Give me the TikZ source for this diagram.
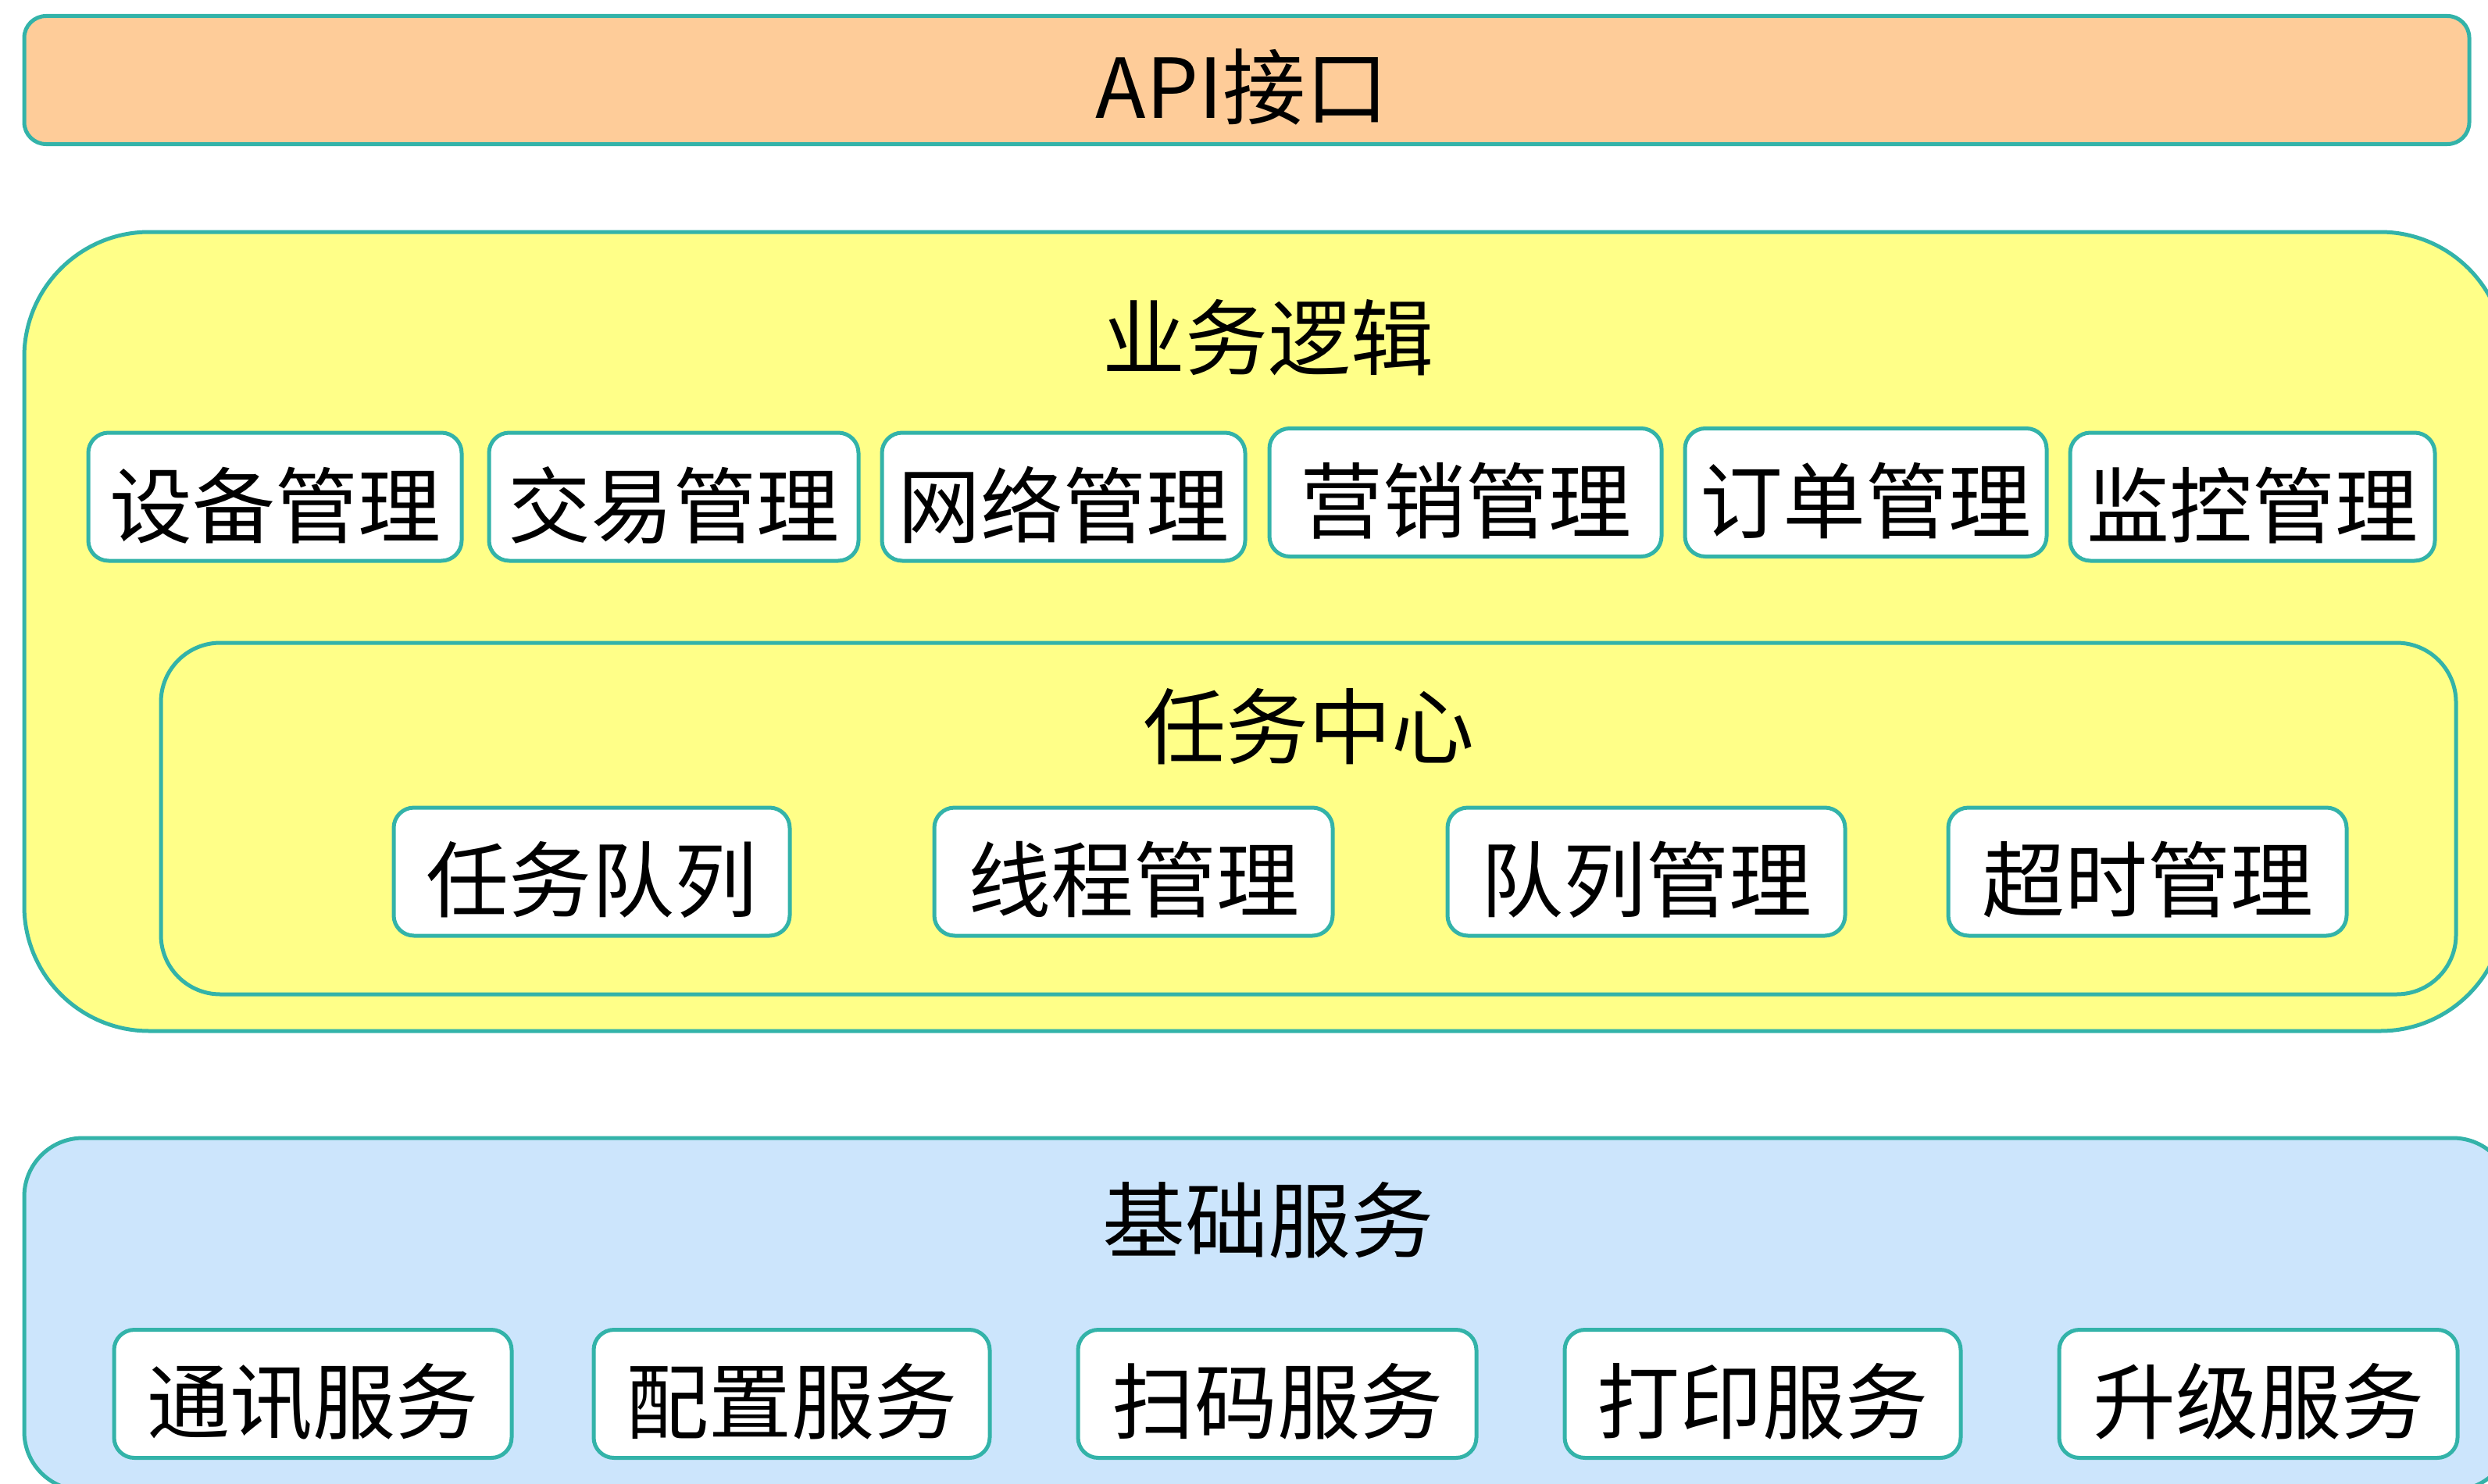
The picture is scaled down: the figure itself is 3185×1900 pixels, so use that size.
\documentclass[tikz,border=0pt]{standalone}
\usepackage{fontspec}
\setmainfont{Noto Sans CJK SC}
\definecolor{edgec}{RGB}{51,179,169}
\definecolor{apifill}{RGB}{254,204,153}
\definecolor{bizfill}{RGB}{255,255,136}
\definecolor{basefill}{RGB}{204,229,252}
\tikzset{
  panel/.style={draw=edgec, line width=5pt, inner sep=0pt, outer sep=0pt, rectangle},
  itembox/.style={panel, fill=white, rounded corners=26pt, minimum height=164pt},
  txt/.style={inner sep=0pt, outer sep=0pt, text=black, font=\fontsize{106}{120}\selectfont},
}
\begin{document}
\begin{tikzpicture}[x=1pt,y=-1pt]
\useasboundingbox (0,0) rectangle (3185,1900);
\clip (0,0) rectangle (3185,1900);

% API layer
\node[panel, fill=apifill, rounded corners=28pt, minimum width=3130pt, minimum height=164pt] (api) at (1596,102.5) {};
\node[txt] (apit) at (1590,111) {API接口};

% business logic layer
\node[panel, fill=bizfill, rounded corners=160pt, minimum width=3176pt, minimum height=1023pt] (biz) at (1619,808.5) {};
\node[txt] (bizt) at (1623,432) {业务逻辑};

\node[itembox, minimum width=478pt] (b1) at (352,636) {};
\node[itembox, minimum width=473pt] (b2) at (862.5,636) {};
\node[itembox, minimum width=465pt] (b3) at (1361.5,636) {};
\node[itembox, minimum width=502pt] (b4) at (1876,630.5) {};
\node[itembox, minimum width=463pt] (b5) at (2388.5,630.5) {};
\node[itembox, minimum width=467pt] (b6) at (2883.5,636) {};
\node[txt, yshift=-11pt] (b1t) at (b1.center) {设备管理};
\node[txt, yshift=-11pt] (b2t) at (b2.center) {交易管理};
\node[txt, yshift=-11pt] (b3t) at (b3.center) {网络管理};
\node[txt, yshift=-11pt] (b4t) at (b4.center) {营销管理};
\node[txt, yshift=-11pt] (b5t) at (b5.center) {订单管理};
\node[txt, yshift=-11pt] (b6t) at (b6.center) {监控管理};

% task center
\node[panel, fill=bizfill, rounded corners=76pt, minimum width=2938pt, minimum height=450pt] (task) at (1675,1048) {};
\node[txt] (taskt) at (1675,930.5) {任务中心};

\node[itembox, minimum width=507pt] (t1) at (757.5,1116) {};
\node[itembox, minimum width=510pt] (t2) at (1451,1116) {};
\node[itembox, minimum width=509pt] (t3) at (2107.5,1116) {};
\node[itembox, minimum width=510pt] (t4) at (2749,1116) {};
\node[txt, yshift=-10pt] (t1t) at (t1.center) {任务队列};
\node[txt, yshift=-10pt] (t2t) at (t2.center) {线程管理};
\node[txt, yshift=-10pt] (t3t) at (t3.center) {队列管理};
\node[txt, yshift=-10pt] (t4t) at (t4.center) {超时管理};

% base services
\node[panel, fill=basefill, rounded corners=75pt, minimum width=3184pt, minimum height=451pt] (base) at (1623,1682.5) {};
\node[txt] (baset) at (1623,1562) {基础服务};

\node[itembox, minimum width=509pt] (s1) at (400.5,1784.5) {};
\node[itembox, minimum width=507pt] (s2) at (1013.5,1784.5) {};
\node[itembox, minimum width=510pt] (s3) at (1635,1784.5) {};
\node[itembox, minimum width=507pt] (s4) at (2256.5,1784.5) {};
\node[itembox, minimum width=510pt] (s5) at (2891,1784.5) {};
\node[txt, yshift=-10pt] (s1t) at (s1.center) {通讯服务};
\node[txt, yshift=-10pt] (s2t) at (s2.center) {配置服务};
\node[txt, yshift=-10pt] (s3t) at (s3.center) {扫码服务};
\node[txt, yshift=-10pt] (s4t) at (s4.center) {打印服务};
\node[txt, yshift=-10pt] (s5t) at (s5.center) {升级服务};
\end{tikzpicture}
\end{document}
